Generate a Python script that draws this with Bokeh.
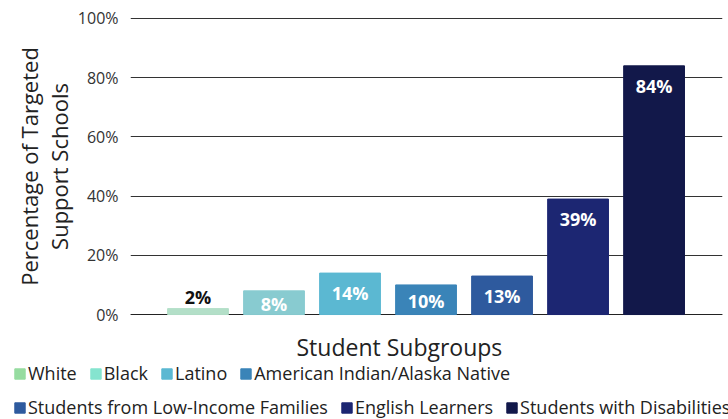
from bokeh.plotting import figure
from bokeh.layouts import column, row
from bokeh.models import (ColumnDataSource, Range1d, FixedTicker, Legend, LegendItem,
                          CustomJSTickFormatter, Label)
from bokeh.core.properties import value
from bokeh.embed import file_html
from bokeh.resources import INLINE

categories = ["White", "Black", "Latino", "American Indian/Alaska Native",
              "Students from Low-Income Families", "English Learners",
              "Students with Disabilities"]
values = [2, 8, 14, 10, 13, 39, 84]
bar_colors = ["#b3dfc8", "#88cbd0", "#5bb8d2", "#3a84b8", "#2e5a9e", "#1c2672", "#12184a"]
legend_colors = ["#96dca0", "#85e4cf", "#5bb8d2", "#3a84b8", "#2e5a9e", "#1c2672", "#12184a"]
y_ticks = [0, 20, 40, 60, 80, 100]
legend_rows = [[0, 1, 2, 3], [4, 5, 6]]

FONT = "Open Sans"
W = 728
top, left, right, bot = 15, 130, 6, 11
frame_h = 302
H1 = top + frame_h + bot
H2 = 419 - H1
y_start, y_end = -1, 101
px_per_unit = frame_h / (y_end - y_start)

xs = list(range(len(values)))
labels = [f"{v}%" for v in values]
offsets = []
text_colors = []
for v in values:
    bar_px = v * px_per_unit
    if v < 5:
        offsets.append(-12)
        text_colors.append("#111111")
    else:
        offsets.append(min(20, bar_px / 2 + 1))
        text_colors.append("#ffffff")

src = ColumnDataSource(dict(x=xs, top=values, color=bar_colors, label=labels,
                            yoff=offsets, tcolor=text_colors))

p = figure(width=W, height=H1, output_backend="svg", toolbar_location=None,
           x_range=Range1d(-0.888, 6.90), y_range=Range1d(y_start, y_end),
           x_axis_location=None,
           min_border_top=top, min_border_bottom=bot,
           min_border_left=left, min_border_right=right)
p.outline_line_color = None

p.xgrid.grid_line_color = None
p.ygrid.ticker = FixedTicker(ticks=y_ticks)
p.ygrid.grid_line_color = "#333333"
p.ygrid.grid_line_width = 1
p.hspan(y=[0], line_color="#222222", line_width=1)

p.vbar(x="x", top="top", bottom=0, width=0.8, color="color", source=src)
p.text(x="x", y="top", text="label", y_offset="yoff", text_color="tcolor",
       text_align="center", text_baseline="middle", text_font=value(FONT),
       text_font_style="bold", text_font_size="18px", source=src)

# y axis
p.yaxis.ticker = FixedTicker(ticks=y_ticks)
p.yaxis.formatter = CustomJSTickFormatter(code="return tick + '%';")
p.yaxis.axis_line_color = None
p.yaxis.major_tick_line_color = None
p.yaxis.minor_tick_line_color = None
p.yaxis.major_label_standoff = 6
p.yaxis.major_label_text_font = FONT
p.yaxis.major_label_text_font_size = "16px"
p.yaxis.major_label_text_color = "#333333"
p.yaxis.axis_label = "Percentage of Targeted\nSupport Schools"
p.yaxis.axis_label_text_font = FONT
p.yaxis.axis_label_text_font_style = "normal"
p.yaxis.axis_label_text_font_size = "22px"
p.yaxis.axis_label_text_line_height = 1.0
p.yaxis.axis_label_text_color = "#222222"
p.yaxis.axis_label_standoff = 1

# lower panel: x title and legend
p2 = figure(width=W, height=H2, output_backend="svg", toolbar_location=None,
            x_range=Range1d(0, 1), y_range=Range1d(0, 1),
            x_axis_location=None, y_axis_location=None,
            min_border=0)
p2.grid.visible = False
p2.outline_line_color = None

p2.add_layout(Label(x=296, y=H2 - 2, x_units="screen", y_units="screen",
                    text="Student Subgroups", text_font=FONT, text_font_size="23px",
                    text_color="#222222", text_baseline="top", text_align="left"))

rows_y = [34, 0]
for r, idxs in enumerate(legend_rows):
    items = []
    for i in idxs:
        rr = p2.vbar(x=[5], top=[1], width=0.8, color=legend_colors[i])
        items.append(LegendItem(label=categories[i], renderers=[rr]))
    leg = Legend(items=items, orientation="horizontal", location=(13, rows_y[r]),
                 glyph_width=13, glyph_height=13, label_standoff=2, spacing=12,
                 padding=0, margin=0, border_line_color=None,
                 background_fill_alpha=0, label_text_font=FONT,
                 label_text_font_size="18px", label_text_color="#222222")
    p2.add_layout(leg, "center")

layout = column(p, row(p2, spacing=0), spacing=0)
open("out.html", "w").write(file_html(layout, INLINE))
